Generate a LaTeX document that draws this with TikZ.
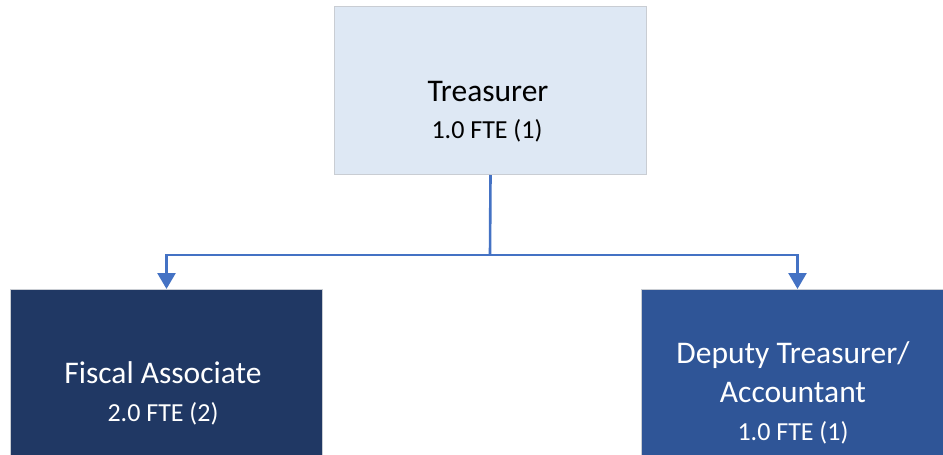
\documentclass[tikz,border=0pt]{standalone}
\usepackage{fontspec}
\setmainfont{Carlito}
\usetikzlibrary{arrows.meta}
\definecolor{topfill}{HTML}{DEE8F4}
\definecolor{boxline}{HTML}{C9CDD3}
\definecolor{navyfill}{HTML}{203864}
\definecolor{bluefill}{HTML}{2F5597}
\definecolor{linkblue}{HTML}{4472C4}
\begin{document}
\begin{tikzpicture}[x=1pt,y=-1pt,
  rolebox/.style={draw=boxline, line width=1pt, minimum width=312pt, minimum height=168pt, inner sep=0pt, anchor=north west},
  titletext/.style={font=\fontsize{31.5}{36}\selectfont, anchor=base, inner sep=0pt},
  ftetext/.style={font=\fontsize{26}{30}\selectfont, anchor=base, inner sep=0pt},
  trunk/.style={draw=linkblue, line width=2.6pt},
  link/.style={trunk, -{Triangle[length=16pt,width=18pt]}}]
  \useasboundingbox[fill=white] (0,0) rectangle (943,455);
  \begin{scope}
    \clip (0,0) rectangle (943,455);
    % boxes
    \node[rolebox, fill=topfill] (treas) at (334,6) {};
    \node[rolebox, fill=navyfill] (fiscal) at (10,289) {};
    \node[rolebox, fill=bluefill] (deputy) at (641,289) {};
    % labels
    \node[titletext] (t1) at (488,101) {Treasurer};
    \node[ftetext] (t2) at (487,138) {1.0 FTE (1)};
    \node[titletext, text=white] (f1) at (163,383) {Fiscal Associate};
    \node[ftetext, text=white] (f2) at (163,421) {2.0 FTE (2)};
    \node[titletext, text=white] (d1) at (793,363) {Deputy Treasurer/};
    \node[titletext, text=white] (d2) at (793,402) {Accountant};
    \node[ftetext, text=white] (d3) at (793,440) {1.0 FTE (1)};
    % connectors
    \coordinate (split) at (490,255);
    \draw[trunk] (treas.south) -- (split);
    \draw[link] (split) -| (fiscal.north);
    \draw[link] (split) -| (deputy.north);
  \end{scope}
\end{tikzpicture}
\end{document}
